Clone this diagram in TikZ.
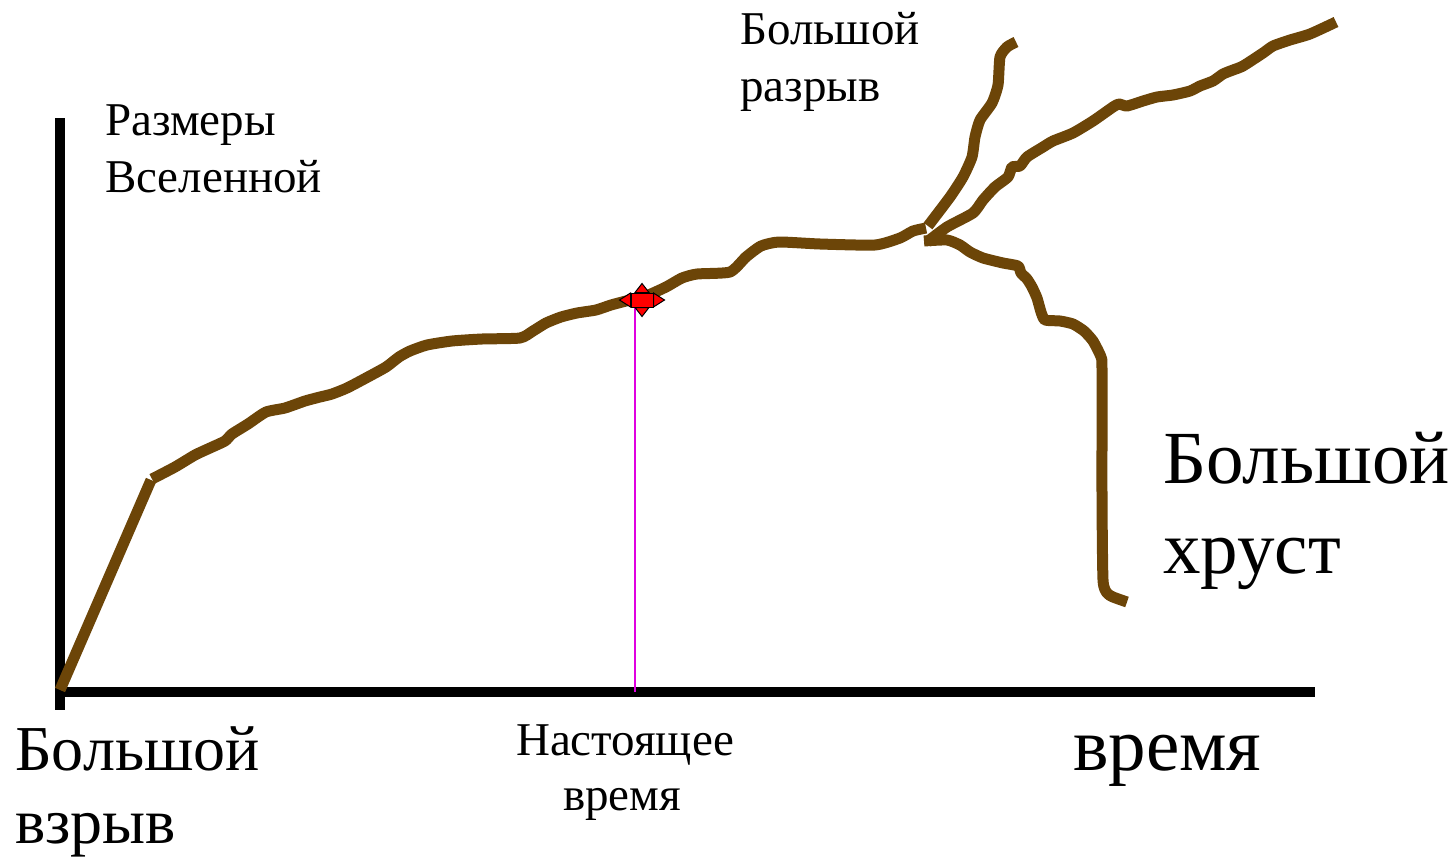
\documentclass[tikz,border=0pt]{standalone}
\usepackage{fontspec}
\setmainfont{LiberationSerif-Regular.ttf}
\definecolor{crv}{HTML}{6C4508}
\definecolor{mag}{HTML}{E000E0}
\begin{document}
\begin{tikzpicture}[x=1bp,y=-1bp,
  curve/.style={draw=crv,line width=11bp,line join=round},
  axis/.style={draw=black,line width=10bp},
  lblS/.style={inner sep=0pt,font=\fontsize{47bp}{57bp}\selectfont},
  lblM/.style={inner sep=0pt,font=\fontsize{64bp}{75bp}\selectfont},
  lblL/.style={inner sep=0pt,font=\fontsize{75bp}{90bp}\selectfont}]
\useasboundingbox (0,0) rectangle (1455,859);
% axes
\coordinate (ytop) at (60,118);
\coordinate (ybot) at (60,710);
\coordinate (xl) at (55,692);
\coordinate (xr) at (1315,692);
\draw[axis] (ytop) -- (ybot);
\draw[axis] (xl) -- (xr);
% present-time line
\coordinate (nowtop) at (635,305);
\coordinate (nowbot) at (635,692);
\draw[mag,line width=1.5bp] (nowtop) -- (nowbot);
% curve
\draw[curve] (60,690) -- (151,480);
\draw[curve] plot[smooth,tension=0.35] coordinates {
 (152,479) (175,467) (195,455) (210,448) (225,441) (232,434) (248,424) (266,412)
 (285,408) (305,401) (320,397) (332,394) (347,388) (366,378) (386,367) (399,357)
 (410,351) (427,345) (452,341) (482,339) (520,338) (533,331) (546,323) (561,317)
 (577,313) (596,310) (611,305) (626,301) (646,296) (666,287) (682,278) (697,274)
 (730,272) (746,257) (761,246) (779,242) (820,244) (875,245) (900,238) (913,231) (926,228)};
% big rip branch
\draw[curve] plot[smooth,tension=0.35] coordinates {
 (928,226) (950,197) (963,177) (972,157) (975,137) (980,120) (992,103) (998,85)
 (1000,57) (1007,47) (1016,42)};
% upper branch
\draw[curve] plot[smooth,tension=0.35] coordinates {
 (927,242) (947,227) (973,213) (983,200) (995,187) (1008,177) (1012,167) (1020,166)
 (1027,157) (1043,147) (1053,141) (1073,133) (1093,121) (1113,107) (1119,104)
 (1127,106) (1143,101) (1157,97) (1173,95) (1190,91) (1200,86) (1213,81) (1223,74)
 (1233,70) (1243,66) (1263,53) (1273,46) (1290,40) (1310,34) (1336,22)};
% crunch branch
\draw[curve] plot[smooth,tension=0.35] coordinates {
 (924,241) (947,240) (960,245) (970,252) (983,258) (1003,263) (1018,266) (1021,273)
 (1027,279) (1032,287) (1037,298) (1041,312) (1045,320) (1060,321) (1073,324)
 (1084,331) (1093,341) (1101,357) (1102,370) (1102,497) (1103,580) (1107,593)
 (1113,597) (1127,602)};
% marker
\node[draw=black,fill=red,line width=1bp,minimum width=22bp,minimum height=14bp,inner sep=0pt] (mk) at (642,300) {};
\draw[black,fill=red,line width=1bp] (mk.west) ++(0,-7) -- ++(-11,7) -- ++(11,7) -- cycle;
\draw[black,fill=red,line width=1bp] (mk.east) ++(0,-7) -- ++(11,7) -- ++(-11,7) -- cycle;
\draw[black,fill=red,line width=1bp] (mk.north) ++(-7,0) -- ++(7,-9) -- ++(7,9) -- cycle;
\draw[black,fill=red,line width=1bp] (mk.south) ++(-7,0) -- ++(7,9) -- ++(7,-9) -- cycle;
% labels
\node[lblS,anchor=base west] (r1) at (105,135) {Размеры};
\node[lblS,anchor=base west] (r2) at (105,192) {Вселенной};
\node[lblS,anchor=base west] (br1) at (740,44) {Большой};
\node[lblS,anchor=base west] (br2) at (740,101) {разрыв};
\node[lblL,anchor=base west] (bc1) at (1163,483) {Большой};
\node[lblL,anchor=base west] (bc2) at (1163,573) {хруст};
\node[lblM,anchor=base west] (bb1) at (15,770) {Большой};
\node[lblM,anchor=base west] (bb2) at (15,843) {взрыв};
\node[lblS,anchor=base] (n1) at (625,755) {Настоящее};
\node[lblS,anchor=base] (n2) at (622,810) {время};
\node[lblL,anchor=base west] (t) at (1073,770) {время};
\end{tikzpicture}
\end{document}
